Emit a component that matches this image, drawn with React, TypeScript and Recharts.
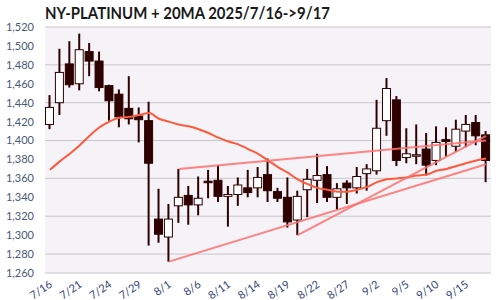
import { ComposedChart, Bar, Line, XAxis, YAxis, CartesianGrid } from 'recharts'

// Sesiones NY platino 2025/7/16 -> 9/17
const dates = [
    '7/16', '7/17', '7/18', '7/21', '7/22', '7/23', '7/24', '7/25', '7/28', '7/29', '7/30', '7/31',
    '8/1', '8/4', '8/5', '8/6', '8/7', '8/8', '8/11', '8/12', '8/13', '8/14', '8/15', '8/18', '8/19',
    '8/20', '8/21', '8/22', '8/25', '8/26', '8/27', '8/28', '8/29',
    '9/2', '9/3', '9/4', '9/5', '9/8', '9/9', '9/10', '9/11', '9/12', '9/15', '9/16', '9/17'
]

const opens = [
    1417, 1440, 1481, 1460, 1494, 1484, 1458, 1449, 1434, 1426, 1421, 1317,
    1298, 1331, 1342, 1332, 1357, 1358, 1341, 1343, 1350, 1350, 1364, 1346, 1340,
    1316, 1348, 1358, 1364, 1340, 1355, 1350, 1365,
    1368, 1421, 1443, 1382, 1385, 1391, 1379, 1401, 1394, 1410, 1419, 1406
]

const closes = [
    1435, 1472, 1459, 1496, 1484, 1456, 1442, 1425, 1423, 1422, 1376, 1301,
    1317, 1340, 1332, 1339, 1356, 1341, 1343, 1353, 1345, 1361, 1347, 1339, 1314,
    1341, 1359, 1363, 1340, 1349, 1350, 1362, 1370,
    1413, 1455, 1379, 1386, 1385, 1374, 1398, 1399, 1412, 1417, 1405, 1379
]

const highs = [
    1448, 1497, 1505, 1513, 1503, 1494, 1459, 1454, 1468, 1435, 1441, 1349,
    1333, 1370, 1352, 1362, 1369, 1374, 1352, 1361, 1369, 1372, 1381, 1350, 1361,
    1347, 1370, 1386, 1373, 1355, 1358, 1372, 1375,
    1443, 1466, 1447, 1413, 1417, 1408, 1415, 1414, 1422, 1427, 1427, 1410
]

const lows = [
    1412, 1427, 1456, 1453, 1468, 1452, 1421, 1414, 1417, 1398, 1289, 1292,
    1272, 1313, 1311, 1321, 1339, 1335, 1309, 1331, 1340, 1340, 1335, 1335, 1308,
    1300, 1319, 1334, 1335, 1327, 1333, 1344, 1347,
    1364, 1405, 1373, 1376, 1375, 1363, 1374, 1383, 1388, 1393, 1395, 1356
]

const ma20 = [
    1369, 1378, 1386, 1395, 1405, 1414, 1420, 1424, 1425, 1427, 1429, 1423,
    1420, 1417, 1415, 1412, 1408, 1403, 1399, 1396, 1391, 1386, 1379, 1372, 1366,
    1359, 1354, 1350, 1348, 1346, 1346, 1348, 1351,
    1356, 1359, 1360, 1361, 1363, 1364, 1368, 1370, 1373, 1376, 1379, 1381
]

// lineas de tendencia: [fecha, valor] en los extremos
const trendUpper: [string, number][] = [['8/4', 1370], ['9/17', 1400]]
const trendLowA: [string, number][] = [['8/1', 1272], ['9/17', 1375]]
const trendLowB: [string, number][] = [['8/20', 1300], ['9/17', 1405]]

const tickDates = ['7/16', '7/21', '7/24', '7/29', '8/1', '8/6', '8/11', '8/14', '8/19', '8/22', '8/27', '9/2', '9/5', '9/10', '9/15']
const yTicks = [1260, 1280, 1300, 1320, 1340, 1360, 1380, 1400, 1420, 1440, 1460, 1480, 1500, 1520]

const pick = (pts: [string, number][], d: string) => {
    const hit = pts.find((p) => p[0] === d)
    return hit ? hit[1] : null
}

const data = dates.map((date, i) => ({
    date,
    open: opens[i],
    close: closes[i],
    high: highs[i],
    low: lows[i],
    range: [lows[i], highs[i]],
    ma: ma20[i],
    tUp: pick(trendUpper, date),
    tA: pick(trendLowA, date),
    tB: pick(trendLowB, date),
}))

const DARK = '#2e0000'

const Candle = (props: any) => {
    const { x, y, width, height, payload } = props
    const top = Math.min(y, y + height)
    const bottom = Math.max(y, y + height)
    const { open, close, high, low } = payload
    const k = high === low ? 0 : (bottom - top) / (high - low)
    const yOf = (v: number) => top + (high - v) * k
    const cx = x + width / 2
    const bodyTop = yOf(Math.max(open, close))
    const bodyBot = yOf(Math.min(open, close))
    const fill = open === close ? '#b4aaaa' : close > open ? '#ffffff' : DARK
    return (
        <g>
            <line x1={cx} x2={cx} y1={top} y2={bottom} stroke={DARK} strokeWidth={2} />
            <rect x={x + 0.5} y={bodyTop} width={width - 1} height={Math.max(bodyBot - bodyTop, 1.5)}
                fill={fill} stroke={DARK} strokeWidth={1} />
        </g>
    )
}

const DateTick = ({ x, y, payload }: any) => (
    <g transform={`translate(${x + 3},${y + 11}) rotate(-35)`}>
        <text textAnchor="end" fontSize={11} fill="#34447a" fontFamily="Lato">{payload.value}</text>
    </g>
)

const App = () => {
    return (
        <div style={{ position: 'relative', width: 500, height: 300, background: '#fff' }}>
            <style>{`body{margin:0}`}</style>
            <svg width={500} height={26} style={{ position: 'absolute', left: 0, top: 0 }}>
                <text x={45} y={19} fontSize={17} fontWeight={700} fontFamily="Lato" fill="#1a1a1a"
                    textLength={285} lengthAdjust="spacingAndGlyphs">NY-PLATINUM + 20MA 2025/7/16-&gt;9/17</text>
            </svg>
            <ComposedChart width={500} height={300} data={data}
                margin={{ top: 27, right: 9, left: 0, bottom: 0 }}>
                <CartesianGrid vertical={false} stroke="#c8c6cc" fill="#f5f3f7" />
                <XAxis dataKey="date" ticks={tickDates} interval={0} tick={<DateTick />}
                    tickLine={false} axisLine={false} height={27} tickSize={0} />
                <YAxis domain={[1260, 1520]} ticks={yTicks} allowDataOverflow width={45}
                    tickLine={false} axisLine={false} tickSize={0} tickMargin={11}
                    tickFormatter={(v) => v.toLocaleString('en-US')}
                    tick={{ fontSize: 11, fill: '#4a5878', fontFamily: 'Lato' }} />
                <Line dataKey="ma" stroke="#ff5a3c" strokeWidth={2} dot={false} type="monotone" isAnimationActive={false} />
                <Bar dataKey="range" barSize={9} shape={<Candle />} isAnimationActive={false} />
                <Line dataKey="tUp" stroke="#ff6f6f" strokeOpacity={0.85} strokeWidth={2} dot={false} connectNulls isAnimationActive={false} />
                <Line dataKey="tA" stroke="#ff6f6f" strokeOpacity={0.85} strokeWidth={2} dot={false} connectNulls isAnimationActive={false} />
                <Line dataKey="tB" stroke="#ff6f6f" strokeOpacity={0.85} strokeWidth={2} dot={false} connectNulls isAnimationActive={false} />
            </ComposedChart>
        </div>
    )
}

export default App
